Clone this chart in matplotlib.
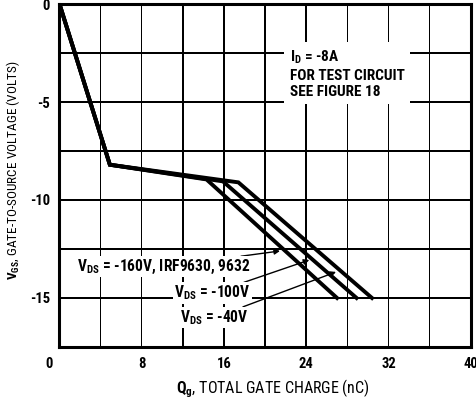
import matplotlib
matplotlib.use('Agg')
from matplotlib import pyplot as plt
import matplotlib.transforms as mtransforms

# gate charge curves (nC, V) for the three drain voltages
q_160 = [0, 4.9, 14.3, 27.0]
v_160 = [0, -8.2, -8.95, -15.0]
q_100 = [0, 4.9, 15.9, 28.9]
v_100 = [0, -8.2, -9.05, -15.0]
q_40 = [0, 4.9, 17.4, 30.4]
v_40 = [0, -8.2, -9.1, -15.0]

x_ticks = [0, 8, 16, 24, 32, 40]
y_ticks = [0, -5, -10, -15]
x_grid = [4, 8, 12, 16, 20, 24, 28, 32, 36]
y_grid = [-2.5, -5, -7.5, -10, -12.5, -15]

fams = ['Roboto Condensed', 'DejaVu Sans']
plt.rcParams['font.family'] = fams
plt.rcParams['font.weight'] = 'bold'
plt.rcParams['mathtext.fontset'] = 'custom'
plt.rcParams['mathtext.rm'] = 'Roboto Condensed:bold'
plt.rcParams['mathtext.it'] = 'Roboto Condensed:bold'
plt.rcParams['mathtext.default'] = 'rm'

fig = plt.figure(figsize=(4.77, 4.0), dpi=100)
ax = fig.add_axes([0.1247, 0.1325, 0.8621, 0.8575])

ax.set_xlim(0, 40)
ax.set_ylim(-17.5, 0)

# grid as thin filled bands (about 1.5 px wide)
for g in x_grid:
	ax.axvspan(g - 0.075, g + 0.075, facecolor='black', edgecolor='none', zorder=2)
for g in y_grid:
	ax.axhspan(g - 0.04, g + 0.04, facecolor='black', edgecolor='none', zorder=2)

for q, v in [(q_160, v_160), (q_100, v_100), (q_40, v_40)]:
	ax.plot(q, v, color='black', lw=2.8, solid_joinstyle='miter', zorder=3)

for s in ax.spines.values():
	s.set_linewidth(2.2)

ax.set_xticks(x_ticks)
ax.set_xticklabels([str(t) for t in x_ticks])
ax.set_yticks(y_ticks)
ax.set_yticklabels([str(t) for t in y_ticks])
ax.tick_params(which='both', length=0, labelsize=10.5)
ax.tick_params(axis='x', pad=7)
ax.tick_params(axis='y', pad=7)
# first x label sits a bit left of the axis corner
off = mtransforms.ScaledTranslation(-10/100., 0, fig.dpi_scale_trans)
lab0 = ax.get_xticklabels()[0]
lab0.set_transform(lab0.get_transform() + off)

ax.set_xlabel('$Q_g$, TOTAL GATE CHARGE (nC)', fontsize=11.5)
ax.xaxis.set_label_coords(0.519, -0.09)
ax.set_ylabel('$V_{GS}$, GATE-TO-SOURCE VOLTAGE (VOLTS)', fontsize=9.5)
ax.yaxis.set_label_coords(-0.091, 0.516)

ax.text(22.4, -2.3, '$I_D$ = -8A\nFOR TEST CIRCUIT\nSEE FIGURE 18', fontsize=11,
	ha='left', va='top', linespacing=1.2, zorder=4,
	bbox=dict(facecolor='white', edgecolor='none', pad=4))

ap = dict(arrowstyle='-|>', color='black', lw=1.0, mutation_scale=8, shrinkA=0, shrinkB=0)
tb = dict(facecolor='white', edgecolor='none', pad=1)
ax.annotate('$V_{DS}$ = -160V, IRF9630, 9632', xy=(21.45, -12.6), xytext=(18.6, -13.4),
	ha='right', va='center', fontsize=11.2, arrowprops=ap, bbox=tb, zorder=5)
ax.annotate('$V_{DS}$ = -100V', xy=(24.3, -13.06), xytext=(18.6, -14.75),
	ha='right', va='center', fontsize=11.2, arrowprops=ap, bbox=tb, zorder=5)
ax.annotate('$V_{DS}$ = -40V', xy=(26.9, -13.67), xytext=(18.4, -16.0),
	ha='right', va='center', fontsize=11.2, arrowprops=ap, bbox=tb, zorder=5)

fig.savefig('out.png', dpi=100)
